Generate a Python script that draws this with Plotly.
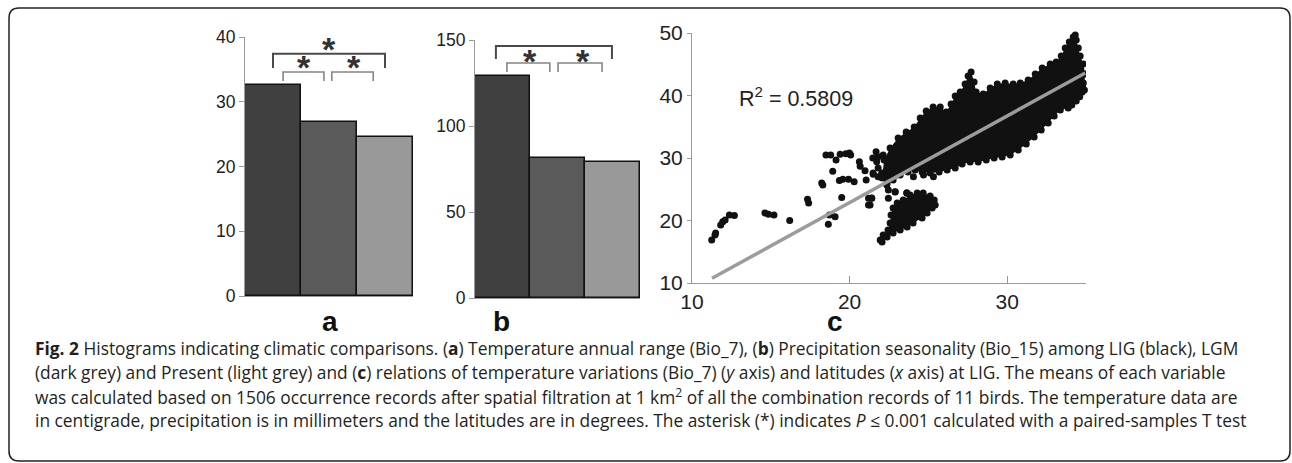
import plotly.graph_objects as go

W, H = 1292, 463

# ---------------- data ----------------
groups = ["LIG", "LGM", "Present"]
group_pos = [0, 1, 2]
bar_colors = ["#404040", "#5a5a5a", "#999999"]

bio7_means = [32.6, 26.9, 24.6]        # panel a
bio15_means = [129.0, 81.4, 79.2]      # panel b

a_ticks = [0, 10, 20, 30, 40]
b_ticks = [0, 50, 100, 150]
c_xticks = [10, 20, 30]
c_yticks = [10, 20, 30, 40, 50]

# significance brackets (x in group positions, y in data units)
a_big_x = [0.0, 0.0, 2.0, 2.0]
a_big_y = [35.2, 37.4, 37.4, 35.2]
a_sl_x = [0.18, 0.18, 0.91, 0.91]
a_sr_x = [1.05, 1.05, 1.79, 1.79]
a_small_y = [33.2, 34.6, 34.6, 33.2]
a_star_x = [1.0, 0.55, 1.45]
a_star_y = [38.6, 35.8, 35.8]

b_big_x = [-0.12, -0.12, 1.99, 1.99]
b_big_y = [139.0, 146.5, 146.5, 139.0]
b_sl_x = [0.08, 0.08, 0.86, 0.86]
b_sr_x = [1.01, 1.01, 1.81, 1.81]
b_small_y = [131.4, 136.6, 136.6, 131.4]
b_star_x = [1.02, 0.5, 1.46]
b_star_y = [153.0, 139.5, 139.5]

# scatter (panel c): latitude (x) vs Bio_7 (y) at LIG
sparse_x = [11.25, 11.46, 11.5, 11.82, 11.95, 12.1, 12.37, 12.69, 14.63, 14.85, 15.2, 16.2,
            17.33, 17.4, 18.23, 18.3, 18.5, 18.8, 19.14, 19.4, 19.76, 19.99, 20.07, 18.93,
            19.35, 19.57, 19.93, 20.29, 20.62, 20.67, 19.5, 18.72, 19.08, 18.65, 21.05, 21.2,
            21.4, 21.5, 21.68, 21.72, 21.47, 21.81, 22.13, 20.98, 21.49, 21.81, 21.81, 22.04,
            22.36, 22.36, 22.46, 22.89, 23.63, 21.2, 21.3, 22.46, 23.0, 23.31, 24.05, 24.69,
            25.32, 21.41, 22.89, 23.63, 34.32, 34.83, 34.6, 34.9, 34.1, 33.8]
sparse_y = [16.9, 17.7, 18.0, 19.3, 19.8, 20.1, 20.9, 20.8, 21.2, 21.0, 20.9, 20.0,
            23.4, 22.8, 26.0, 25.7, 30.5, 30.5, 29.7, 30.6, 30.7, 30.8, 30.5, 27.9,
            26.4, 26.6, 26.6, 26.2, 29.4, 28.7, 23.7, 20.9, 20.6, 19.4, 26.5, 22.5,
            23.6, 27.4, 31.0, 29.4, 30.0, 30.2, 30.5, 27.97, 27.6, 28.4, 27.0, 27.6,
            26.8, 25.7, 24.9, 24.6, 24.45, 23.55, 22.5, 23.55, 27.3, 28.1, 27.0, 27.3,
            27.0, 23.55, 24.56, 24.35, 49.7, 42.0, 39.8, 40.9, 38.5, 39.3]

# outline points of the dense upper band
band_x = [22.19, 22.57, 23.08, 23.59, 24.10, 24.48, 24.86, 25.30, 25.75, 26.13, 26.44, 26.70,
          27.02, 27.33, 27.52, 27.71, 27.90, 28.03, 28.48, 28.92, 29.37, 29.87, 30.38, 30.83,
          31.33, 31.78, 32.22, 32.73, 33.11, 33.43, 33.68, 33.94, 34.19, 34.38, 34.51, 34.63,
          34.83, 34.95, 34.89, 34.76, 34.38, 33.87, 33.37, 32.98, 32.60, 32.16, 31.71, 31.21,
          30.70, 30.19, 29.68, 29.17, 28.67, 28.16, 27.65, 27.14, 26.70, 26.19, 25.68, 25.11,
          24.60, 24.16, 23.71, 23.21, 22.76, 22.38, 22.06]
band_y = [29.68, 31.6, 33.2, 34.16, 34.96, 36.4, 37.52, 38.16, 38.16, 37.36, 38.64, 39.92,
          40.56, 41.84, 43.12, 43.76, 42.16, 40.56, 40.24, 41.2, 41.84, 42.0, 41.84, 42.0,
          42.48, 43.44, 44.4, 45.04, 45.36, 46.32, 47.6, 48.56, 49.36, 48.88, 47.6, 46.32,
          45.04, 43.44, 41.84, 40.56, 39.12, 38.0, 37.68, 36.72, 35.6, 34.48, 33.36, 32.24,
          31.28, 30.48, 30.16, 30.0, 29.68, 29.36, 29.36, 29.04, 28.4, 28.08, 27.76, 27.6,
          27.76, 28.08, 27.76, 27.28, 26.48, 26.0, 26.8]

# outline points of the dense lower blob
blob_x = [21.94, 22.13, 22.44, 22.57, 22.63, 22.76, 23.02, 23.40, 23.84, 24.29, 24.67, 25.11,
          25.37, 25.43, 25.24, 24.92, 24.60, 24.03, 23.65, 23.21, 22.76, 22.38, 22.06]
blob_y = [16.88, 17.68, 18.48, 19.6, 20.88, 22.0, 22.8, 23.28, 24.08, 24.4, 24.4, 23.92,
          23.28, 22.48, 22.0, 21.2, 20.4, 19.6, 18.96, 18.48, 18.0, 17.36, 16.56]

fit_x = [11.27, 34.95]
fit_y = [10.75, 43.6]
r2_label = "R<sup>2</sup> = 0.5809"

# ---------------- layout helpers ----------------
def px_x(p):
    return p / W

def px_y(p):
    return 1 - p / H

AX_GREY = "#9a9a9a"
TICK_FONT_AB = dict(family="Arial, Liberation Sans, sans-serif", size=17.5, color="#222")
TICK_FONT_C = dict(family="Arial, Liberation Sans, sans-serif", size=21, color="#222")
STAR_FONT = dict(family="Arial, Liberation Sans", size=34, color="#333")

fig = go.Figure()

# ---- panel a ----
fig.add_trace(go.Bar(x=group_pos, y=bio7_means, hovertext=groups, width=1,
                     marker=dict(color=bar_colors, line=dict(color="#111", width=1.5)),
                     xaxis="x", yaxis="y", showlegend=False))
for bx, by, col, lw in [(a_big_x, a_big_y, "#4a4a4a", 2), (a_sl_x, a_small_y, "#858585", 1.6),
                        (a_sr_x, a_small_y, "#858585", 1.6)]:
    fig.add_trace(go.Scatter(x=bx, y=by, mode="lines", line=dict(color=col, width=lw),
                             cliponaxis=False, xaxis="x", yaxis="y", showlegend=False))
for sx, sy in zip(a_star_x, a_star_y):
    fig.add_annotation(x=sx, y=sy, xref="x", yref="y", text="<b>*</b>", showarrow=False,
                       font=STAR_FONT, yanchor="middle", yshift=-3)

# ---- panel b ----
fig.add_trace(go.Bar(x=group_pos, y=bio15_means, hovertext=groups, width=1,
                     marker=dict(color=bar_colors, line=dict(color="#111", width=1.5)),
                     xaxis="x2", yaxis="y2", showlegend=False))
for bx, by, col, lw in [(b_big_x, b_big_y, "#4a4a4a", 2), (b_sl_x, b_small_y, "#858585", 1.6),
                        (b_sr_x, b_small_y, "#858585", 1.6)]:
    fig.add_trace(go.Scatter(x=bx, y=by, mode="lines", line=dict(color=col, width=lw),
                             cliponaxis=False, xaxis="x2", yaxis="y2", showlegend=False))
for sx, sy in zip(b_star_x, b_star_y):
    fig.add_annotation(x=sx, y=sy, xref="x2", yref="y2", text="<b>*</b>", showarrow=False,
                       font=STAR_FONT, yanchor="middle", yshift=-3)

# ---- panel c ----
PT = "#111111"
fig.add_trace(go.Scatter(x=band_x, y=band_y, mode="markers", fill="toself", fillcolor=PT,
                         marker=dict(color=PT, size=7), line=dict(width=0),
                         xaxis="x3", yaxis="y3", showlegend=False))
fig.add_trace(go.Scatter(x=blob_x, y=blob_y, mode="markers", fill="toself", fillcolor=PT,
                         marker=dict(color=PT, size=7), line=dict(width=0),
                         xaxis="x3", yaxis="y3", showlegend=False))
fig.add_trace(go.Scatter(x=sparse_x, y=sparse_y, mode="markers",
                         marker=dict(color=PT, size=7), cliponaxis=False,
                         xaxis="x3", yaxis="y3", showlegend=False))
fig.add_trace(go.Scatter(x=fit_x, y=fit_y, mode="lines", line=dict(color="#9c9c9c", width=3.5),
                         xaxis="x3", yaxis="y3", showlegend=False))
fig.add_annotation(x=12.86, y=39.76, xref="x3", yref="y3", text=r2_label, showarrow=False,
                   xanchor="left", yanchor="middle",
                   font=dict(family="Arial, Liberation Sans", size=21.5, color="#222"))

axis_common = dict(showgrid=False, zeroline=False, showline=True, linecolor=AX_GREY,
                   linewidth=1, ticks="outside", tickcolor=AX_GREY, ticklen=5)

fig.update_layout(
    width=W, height=H, margin=dict(l=0, r=0, t=0, b=0, autoexpand=False),
    paper_bgcolor="white", plot_bgcolor="white", bargap=0,
    xaxis=dict(domain=[px_x(245), px_x(413)], range=[-0.5, 2.5], showticklabels=False,
               showgrid=False, zeroline=False, showline=True, linecolor=AX_GREY,
               ticks="", anchor="y"),
    yaxis=dict(domain=[px_y(296), px_y(37)], range=[0, 40], tickvals=a_ticks,
               tickfont=TICK_FONT_AB, anchor="x", **axis_common),
    xaxis2=dict(domain=[px_x(475), px_x(640)], range=[-0.5, 2.5], showticklabels=False,
                showgrid=False, zeroline=False, showline=True, linecolor=AX_GREY,
                ticks="", anchor="y2"),
    yaxis2=dict(domain=[px_y(298), px_y(40)], range=[0, 150], tickvals=b_ticks,
                tickfont=TICK_FONT_AB, anchor="x2", **axis_common),
    xaxis3=dict(domain=[px_x(692), px_x(1086)], range=[10, 35], tickvals=c_xticks,
                tickfont=TICK_FONT_C, anchor="y3", showgrid=False, zeroline=False,
                showline=True, linecolor=AX_GREY, ticks="inside", tickcolor=AX_GREY,
                ticklen=7),
    yaxis3=dict(domain=[px_y(283), px_y(33)], range=[10, 50], tickvals=c_yticks,
                tickfont=TICK_FONT_C, anchor="x3", showgrid=False, zeroline=False,
                showline=True, linecolor=AX_GREY, ticks="outside", tickcolor=AX_GREY,
                ticklen=4),
)

# panel letters
for lab, cx in [("a", 330), ("b", 501), ("c", 835)]:
    fig.add_annotation(x=px_x(cx), y=px_y(321), xref="paper", yref="paper", text=f"<b>{lab}</b>",
                       showarrow=False, xanchor="center", yanchor="middle",
                       font=dict(family="Arial, Liberation Sans", size=28, color="#111"))

# caption
caption_lines = [
    "<b>Fig. 2</b> Histograms indicating climatic comparisons. (<b>a</b>) Temperature annual range (Bio_7), (<b>b</b>) Precipitation seasonality (Bio_15) among LIG (black), LGM",
    "(dark grey) and Present (light grey) and (<b>c</b>) relations of temperature variations (Bio_7) (<i>y</i> axis) and latitudes (<i>x</i> axis) at LIG. The means of each variable",
    "was calculated based on 1506 occurrence records after spatial filtration at 1 km<sup>2</sup> of all the combination records of 11 birds. The temperature data are",
    "in centigrade, precipitation is in millimeters and the latitudes are in degrees. The asterisk (*) indicates <i>P</i> ≤ 0.001 calculated with a paired-samples T test",
]
caption_y = [348, 372, 396, 420]
for line, ly in zip(caption_lines, caption_y):
    fig.add_annotation(x=px_x(33), y=px_y(ly), xref="paper", yref="paper", text=line,
                       showarrow=False, xanchor="left", yanchor="middle",
                       font=dict(family="Open Sans", size=17.35, color="#231f20"))

# rounded frame
L, R, T, B = px_x(9), px_x(1290), px_y(8), px_y(461)
rx, ry = 10 / W, 10 / H
path = (f"M {L+rx},{T} L {R-rx},{T} Q {R},{T} {R},{T-ry} L {R},{B+ry} Q {R},{B} {R-rx},{B} "
        f"L {L+rx},{B} Q {L},{B} {L},{B+ry} L {L},{T-ry} Q {L},{T} {L+rx},{T} Z")
fig.add_shape(type="path", path=path, xref="paper", yref="paper",
              line=dict(color="#222", width=1.5))

fig.write_html("out.html", config={"displayModeBar": False},
               post_script="document.body.style.margin='0';document.body.style.overflow='hidden';")
